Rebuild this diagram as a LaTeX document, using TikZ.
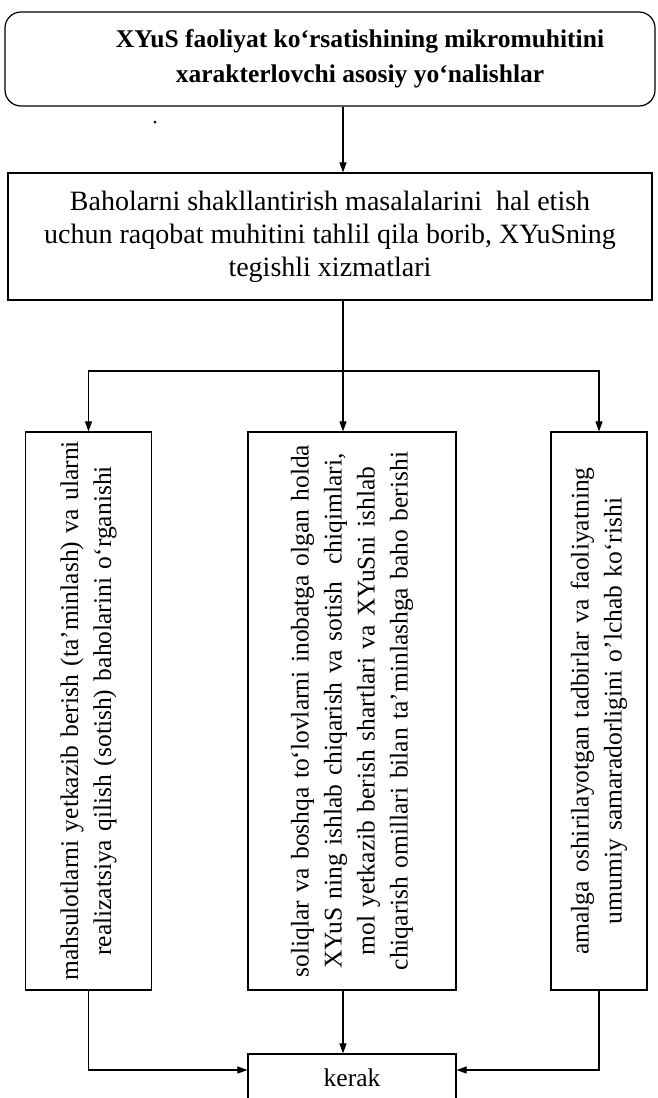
\documentclass[tikz,border=0pt]{standalone}
\usepackage{fontspec}
\setmainfont{Liberation Serif}
\usetikzlibrary{arrows.meta}

\begin{document}
\begin{tikzpicture}[x=1pt, y=-1pt,
    topic/.style={rectangle, draw=black, line width=1.2pt, rounded corners=16pt, minimum width=650pt, minimum height=94pt, align=center, font=\fontsize{25.5}{35}\selectfont\bfseries},
    block/.style={rectangle, draw=black, line width=1.2pt, align=center, inner sep=4pt, font=\fontsize{25.5}{33}\selectfont},
    wide/.style={block, font=\fontsize{28}{33}\selectfont},
    vblock/.style={block, rotate=90, minimum width=558pt, text width=550pt},
    arrow/.style={-{Triangle[length=10pt, width=7pt]}, line width=1.1pt},
    link/.style={line width=1.1pt}
]
\useasboundingbox (0,0) rectangle (658,1098);

% Heading
\node[topic] (head) at (330, 59) {\hspace*{60pt}XYuS faoliyat ko‘rsatishining mikromuhitini\\\hspace*{60pt}xarakterlovchi asosiy yo‘nalishlar};
\fill (155, 122) circle (1.5pt);

% Analysis box
\node[wide, minimum width=644pt, minimum height=127pt] (baho) at (330, 236.5) {Baholarni shakllantirish masalalarini\ \ hal etish\\uchun raqobat muhitini tahlil qila borib, XYuSning\\tegishli xizmatlari};
\coordinate (split) at (343, 371);

% Three directions (rotated)
\node[vblock, minimum height=126pt] (prod) at (88.5, 711) {mahsulotlarni yetkazib berish (ta’minlash) va ularni\\realizatsiya qilish (sotish) baholarini o‘rganishi};
\node[vblock, minimum height=208pt] (cost) at (352, 711) {soliqlar va boshqa to‘lovlarni inobatga olgan holda\\XYuS ning ishlab chiqarish va sotish\ \ chiqimlari,\\mol yetkazib berish shartlari va XYuSni ishlab\\chiqarish omillari bilan ta’minlashga baho berishi};
\node[vblock, minimum height=96pt] (eval) at (599, 711) {amalga oshirilayotgan tadbirlar va faoliyatning\\umumiy samaradorligini o’lchab ko‘rishi};

% Result
\node[block, minimum width=208pt, minimum height=48pt] (kerak) at (352, 1078) {kerak};

% Connectors
\draw[arrow] (head.south -| split) -- (baho.north -| split);
\draw[link] (baho.south -| split) -- (split);
\draw[arrow] (split) -| (prod);
\draw[arrow] (split) -- (cost.east -| split);
\draw[arrow] (split) -| (eval);
\draw[arrow] (prod) |- ([yshift=8pt]kerak.west);
\draw[arrow] (cost.west -| split) -- (kerak.north -| split);
\draw[arrow] (eval) |- ([yshift=8pt]kerak.east);

\end{tikzpicture}
\end{document}
